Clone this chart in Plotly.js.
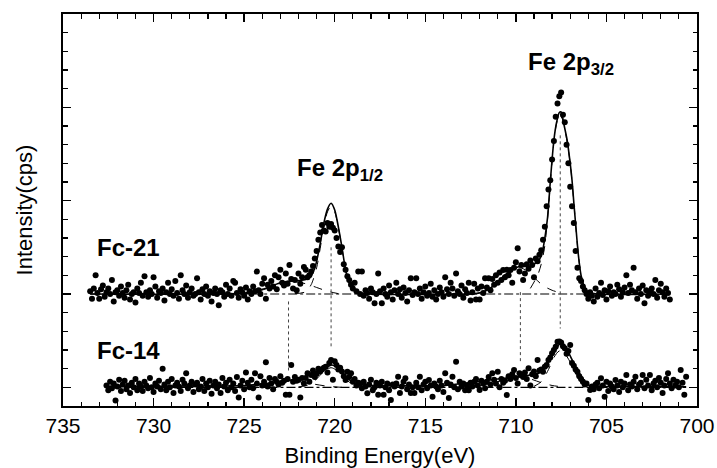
<!DOCTYPE html>
<html><head><meta charset="utf-8">
<script src="https://cdn.plot.ly/plotly-3.0.1.min.js"></script>
<style>html,body{margin:0;padding:0;background:#fff}</style>
</head><body><div id="chart" style="width:717px;height:468px"></div>
<script>
// ---------- DATA ----------
const STEP = 0.1; // eV, acquisition step
const fc21Start = 733.5;
const fc21Counts = [
6.15,5.75,6.3,7.0,6.05,5.75,6.25,6.45,5.85,6.1,
6.3,6.0,6.75,5.6,6.1,6.2,5.9,6.4,6.05,5.8,
6.2,6.5,5.7,6.0,6.1,5.55,6.3,6.05,6.6,5.9,
6.95,6.1,5.85,6.2,6.0,6.9,6.4,5.8,6.15,6.05,
6.3,5.65,6.1,6.6,6.0,6.25,5.9,6.7,6.05,5.75,
7.0,6.2,6.0,6.45,5.8,6.1,6.3,5.9,6.0,6.85,
6.1,5.7,6.25,6.0,6.4,5.9,6.15,5.6,6.05,6.3,
6.0,5.4,6.2,6.1,5.85,6.5,6.0,6.3,5.9,6.7,
6.6,6.05,5.8,6.25,6.1,5.9,6.35,5.7,6.15,6.0,
6.4,6.15,7.2,6.2,6.0,6.55,6.85,5.75,6.5,6.3,
6.7,6.4,7.0,6.25,6.9,7.3,6.6,6.45,7.1,6.55,
7.55,6.8,6.3,6.75,6.2,7.1,6.55,6.9,7.45,7.3,
6.9,7.0,7.2,7.5,7.9,8.3,8.9,9.3,9.7,9.4,
9.35,9.8,9.6,9.75,9.55,9.4,9.0,8.55,8.25,8.5,
7.6,7.3,6.95,6.75,6.5,6.3,6.6,6.15,7.2,6.0,
7.2,5.9,6.2,6.05,5.75,6.3,6.1,5.5,6.0,7.1,
6.15,5.5,6.3,6.0,5.85,6.45,6.1,5.7,6.2,6.6,
6.0,6.25,5.8,6.35,6.05,5.6,6.2,6.85,5.95,6.1,
6.85,6.0,6.3,5.75,6.1,6.4,5.9,6.05,6.55,5.85,
6.2,5.7,6.0,6.35,6.1,5.85,6.9,6.25,6.0,6.6,
6.3,5.9,7.1,6.15,6.0,6.45,5.8,6.25,6.05,6.6,
5.65,6.1,6.55,5.7,6.3,5.7,6.4,6.05,6.85,6.35,
6.85,6.2,6.8,6.5,7.0,6.6,7.15,6.75,7.28,6.9,
7.3,7.0,7.28,6.6,7.4,7.7,8.45,7.2,7.55,6.75,
7.1,7.6,7.35,7.8,7.55,6.9,7.9,7.75,8.1,8.35,
8.9,9.6,10.7,11.6,12.1,13.2,14.2,15.5,16.2,16.6,
16.8,15.6,15.2,14.0,13.0,11.75,10.7,9.8,8.3,7.4,
6.85,6.7,6.4,6.2,6.0,5.75,6.1,5.9,5.6,6.3,
5.85,6.05,6.6,5.95,6.2,5.7,6.15,6.4,5.9,6.1,
6.0,6.5,6.25,5.85,6.1,6.35,7.0,6.05,6.5,6.2,
7.4,6.1,5.75,6.3,6.0,6.45,5.5,6.2,5.9,6.15,
6.3,6.0,6.75,5.8,6.2,6.55,6.1,5.85,6.3,6.05,
5.7];

const fc14Start = 732.6;
const fc14Counts = [
1.1,0.85,1.3,0.95,1.2,0.3,1.05,1.4,0.8,1.15,
1.35,0.9,1.1,0.7,1.25,1.0,1.45,0.85,1.2,1.05,
0.8,1.3,1.1,0.95,1.5,1.0,0.75,1.2,1.05,1.35,
0.9,2.0,1.15,0.85,1.3,1.0,1.45,0.7,1.1,1.25,
1.05,0.8,1.4,1.2,1.75,0.95,1.1,1.3,0.75,1.15,
1.25,0.9,1.05,1.45,0.8,1.2,1.0,1.35,0.65,1.1,
1.3,0.95,1.15,0.7,1.5,1.05,1.25,0.85,1.4,1.0,
1.2,0.8,1.55,0.45,1.1,1.35,0.9,1.8,1.25,1.0,
1.4,0.95,1.75,1.2,0.45,1.6,1.1,1.3,2.35,1.05,
1.5,1.2,0.9,1.45,1.3,1.15,1.6,1.25,1.35,0.6,
1.45,0.6,2.2,1.3,1.55,1.35,1.4,0.45,1.5,1.2,
1.5,1.75,1.3,1.66,1.9,1.55,1.73,2.0,1.85,1.95,
2.05,2.1,1.8,2.3,2.46,1.4,2.4,2.2,1.95,2.05,
1.85,1.6,1.39,1.84,1.55,1.75,1.3,1.45,1.1,1.25,
1.2,0.95,1.3,1.05,0.68,1.15,1.4,0.85,1.0,1.25,
0.6,1.1,1.3,0.6,1.0,1.2,0.85,0.32,1.15,1.05,
1.2,1.57,0.7,1.05,1.3,1.48,0.9,1.15,0.7,1.0,
0.7,1.25,1.0,1.57,0.85,1.15,1.3,0.95,1.39,1.1,
0.5,1.2,1.05,0.9,1.35,1.1,0.75,1.75,1.25,0.43,
1.15,1.57,1.0,2.37,0.9,1.3,1.05,1.2,0.84,1.1,
0.84,1.25,1.05,1.3,1.45,1.1,0.86,1.35,1.2,0.95,
1.3,1.55,1.15,1.75,1.4,1.2,1.84,1.0,1.45,1.25,
1.35,0.59,1.6,1.45,1.7,1.93,1.5,1.2,1.75,1.65,
1.55,1.8,1.45,2.02,1.1,1.7,1.85,1.6,2.46,1.9,
1.95,1.84,2.1,2.2,2.46,2.6,2.82,3.0,3.18,3.44,
3.45,3.4,3.2,3.1,2.8,2.95,3.27,2.3,2.15,1.95,
1.84,1.6,1.45,1.3,1.15,1.2,0.32,0.86,1.05,0.9,
1.15,1.25,0.95,1.48,1.1,0.5,1.3,0.8,1.2,1.05,
0.9,1.39,1.1,0.75,1.3,1.0,1.2,1.66,0.85,1.15,
1.05,1.3,1.57,0.9,1.15,1.25,1.66,0.95,1.4,1.1,
1.66,0.85,1.2,1.35,1.0,1.5,1.25,0.7,1.1,1.45,
1.75,1.2,0.95,1.4,1.1,1.3,1.0,1.93,1.25,0.6,
1.57];

// fitted envelopes
const fc21FitE = [733.5,726.0,725.0,724.5,724.0,723.5,723.0,722.6,722.0,721.6,721.3,721.1,721.0,720.8,720.6,720.4,720.2,720.0,719.8,719.6,719.4,719.2,719.0,718.6,718.0,712.4,712.0,711.6,711.3,711.0,710.6,710.2,709.85,709.5,709.2,708.9,708.7,708.55,708.4,708.25,708.1,707.9,707.75,707.6,707.5,707.35,707.17,707.0,706.9,706.8,706.7,706.55,706.4,706.2,706.0,705.5,701.5];
const fc21FitI = [6.0,6.0,6.05,6.12,6.25,6.42,6.6,6.68,6.72,6.78,6.98,7.4,7.75,8.7,9.8,10.55,10.86,10.5,9.6,8.5,7.3,6.6,6.25,6.07,6.0,6.0,6.05,6.2,6.39,6.65,7.02,7.3,7.46,7.48,7.5,7.66,7.85,8.2,9.0,10.1,12.0,14.25,15.2,15.72,15.75,15.1,14.25,13.0,12.1,10.9,9.75,8.1,7.0,6.35,6.1,6.0,6.0];
const fc14FitE = [732.6,727.0,725.0,724.0,723.2,722.4,721.6,720.9,720.5,720.16,719.9,719.6,719.3,719.05,718.6,718.0,716.0,713.9,713.0,712.0,711.0,709.85,709.2,708.74,708.5,708.28,708.05,707.82,707.54,707.35,707.17,707.0,706.8,706.6,706.43,706.2,705.98,705.6,703.0,700.6];
const fc14FitI = [1.05,1.07,1.1,1.18,1.3,1.39,1.57,1.84,2.05,2.2,2.1,1.84,1.5,1.3,1.15,1.1,1.08,1.1,1.2,1.32,1.45,1.57,1.66,1.75,1.98,2.29,2.7,3.0,3.36,3.25,3.0,2.68,2.29,1.93,1.66,1.33,1.12,1.05,1.04,1.03];

// fitted components
const fc21CompAE = [725.0,724.2,723.6,723.0,722.6,722.2,721.6,721.0,720.4,719.8];
const fc21CompAI = [6.0,6.15,6.35,6.58,6.68,6.66,6.55,6.35,6.15,6.02];
const fc21CompBE = [722.2,721.6,721.3,721.0,720.8,720.6,720.4,720.2,720.0,719.8,719.6,719.4,719.2,719.0,718.6,718.0];
const fc21CompBI = [6.02,6.12,6.5,7.4,8.45,9.6,10.4,10.7,10.4,9.55,8.45,7.28,6.6,6.25,6.07,6.0];
const fc21CompCE = [712.4,711.8,711.3,710.8,710.3,709.8,709.3,708.9,708.5,708.0,707.5];
const fc21CompCI = [6.0,6.12,6.38,6.8,7.2,7.4,7.2,6.8,6.45,6.2,6.05];
const fc21CompDE = [709.2,708.8,708.6,708.4,708.2,708.0,707.8,707.6,707.4,707.2,707.0,706.8,706.6,706.4,706.2,705.8];
const fc21CompDI = [6.3,7.0,7.6,8.6,10.6,13.1,14.9,15.6,15.3,14.3,13.0,10.9,8.6,7.0,6.35,6.02];
const fc14CompAE = [725.0,724.0,723.2,722.6,722.0,721.2,720.4,719.6];
const fc14CompAI = [1.0,1.12,1.28,1.33,1.3,1.18,1.06,1.0];
const fc14CompBE = [722.0,721.4,721.0,720.6,720.2,719.8,719.4,719.0,718.4];
const fc14CompBI = [1.02,1.15,1.45,1.85,2.05,1.85,1.45,1.15,1.02];
const fc14CompCE = [713.0,712.0,711.0,710.3,709.8,709.2,708.6,708.0,707.4];
const fc14CompCI = [1.0,1.1,1.3,1.5,1.55,1.45,1.25,1.1,1.02];
const fc14CompDE = [709.0,708.6,708.2,707.9,707.6,707.3,707.0,706.7,706.4,706.0];
const fc14CompDI = [1.05,1.3,1.95,2.6,2.95,2.8,2.35,1.75,1.3,1.05];

// background levels
const fc21Background = 6.0;
const fc14Background = 1.0;
const fc21End = 701.5;
const fc14End = 700.6;

// peak-position guide lines (energy, upper and lower intensity)
const guideE = [722.55, 720.2, 709.75, 707.55];
const guideTop = [5.6, 8.5, 6.1, 14.5];
const guideBottom = [1.85, 3.1, 2.3, 4.15];

// labels
const sampleLabels = ['Fc-21', 'Fc-14'];
const peakLabels = ['Fe 2p<sub>1/2</sub>', 'Fe 2p<sub>3/2</sub>'];

// ---------- BUILD ----------
const mkE = (start, n) => Array.from({length: n}, (_, i) => +(start - STEP * i).toFixed(2));
const fc21E = mkE(fc21Start, fc21Counts.length);
const fc14E = mkE(fc14Start, fc14Counts.length);

const gx = [], gy = [];
guideE.forEach((e, i) => { gx.push(e, e, null); gy.push(guideTop[i], guideBottom[i], null); });

const black = '#000';
const traces = [];
traces.push({x: [fc21Start, fc21End], y: [fc21Background, fc21Background], mode: 'lines', line: {color: black, width: 1.2, dash: 'dashdot'}, hoverinfo: 'skip'});
traces.push({x: [fc14Start, fc14End], y: [fc14Background, fc14Background], mode: 'lines', line: {color: black, width: 1.2, dash: 'dashdot'}, hoverinfo: 'skip'});
[[fc21CompAE, fc21CompAI], [fc21CompBE, fc21CompBI], [fc21CompCE, fc21CompCI], [fc21CompDE, fc21CompDI],
 [fc14CompAE, fc14CompAI], [fc14CompBE, fc14CompBI], [fc14CompCE, fc14CompCI], [fc14CompDE, fc14CompDI]].forEach(c => {
  traces.push({x: c[0], y: c[1], mode: 'lines', line: {color: black, width: 1, dash: 'dash', shape: 'spline', smoothing: 0.8}, hoverinfo: 'skip'});
});
traces.push({x: gx, y: gy, mode: 'lines', line: {color: '#444', width: 1, dash: 'dot'}, hoverinfo: 'skip', connectgaps: false});
traces.push({x: fc21E, y: fc21Counts, mode: 'markers', marker: {color: black, size: 6}, name: 'Fc-21'});
traces.push({x: fc14E, y: fc14Counts, mode: 'markers', marker: {color: black, size: 6}, name: 'Fc-14'});
traces.push({x: fc21FitE, y: fc21FitI, mode: 'lines', line: {color: black, width: 1.6, shape: 'spline', smoothing: 0.7}, name: 'Fc-21 fit'});
traces.push({x: fc14FitE, y: fc14FitI, mode: 'lines', line: {color: black, width: 1.6, shape: 'spline', smoothing: 0.7}, name: 'Fc-14 fit'});

const labFont = {family: 'Liberation Sans, Arial, sans-serif', size: 24, color: black, weight: 'bold'};
const layout = {
  width: 717, height: 468,
  margin: {l: 63, r: 20, t: 14, b: 62},
  paper_bgcolor: '#fff', plot_bgcolor: '#fff',
  showlegend: false,
  font: {family: 'Liberation Sans, Arial, sans-serif', color: black},
  xaxis: {
    range: [735, 700], tick0: 700, dtick: 5, ticks: 'inside', ticklen: 8, tickwidth: 1.5, tickcolor: black,
    showline: true, linewidth: 2, linecolor: black, mirror: 'ticks', showgrid: false, zeroline: false,
    tickfont: {size: 21}, automargin: false,
    minor: {dtick: 1, ticks: 'inside', ticklen: 4.5, tickwidth: 1.2, tickcolor: black, showgrid: false},
    title: {text: 'Binding Energy(eV)', font: {size: 22}, standoff: 12}
  },
  yaxis: {
    range: [0, 21], tick0: 1, dtick: 5, ticks: 'inside', ticklen: 8, tickwidth: 1.5, tickcolor: black,
    showline: true, linewidth: 2, linecolor: black, mirror: 'ticks', showgrid: false, zeroline: false,
    showticklabels: false, automargin: false,
    minor: {dtick: 1, ticks: 'inside', ticklen: 4.5, tickwidth: 1.2, tickcolor: black, showgrid: false},
    title: {text: 'Intensity(cps)', font: {size: 22}, standoff: 22}
  },
  annotations: [
    {x: 733.25, y: 8.5, xref: 'x', yref: 'y', text: sampleLabels[0], showarrow: false, xanchor: 'left', yanchor: 'middle', font: labFont},
    {x: 733.25, y: 2.95, xref: 'x', yref: 'y', text: sampleLabels[1], showarrow: false, xanchor: 'left', yanchor: 'middle', font: labFont},
    {x: 722.2, y: 12.65, xref: 'x', yref: 'y', text: peakLabels[0], showarrow: false, xanchor: 'left', yanchor: 'middle', font: labFont},
    {x: 709.42, y: 18.35, xref: 'x', yref: 'y', text: peakLabels[1], showarrow: false, xanchor: 'left', yanchor: 'middle', font: labFont}
  ]
};
Plotly.newPlot('chart', traces, layout, {displayModeBar: false, staticPlot: true});
</script>
</body></html>
